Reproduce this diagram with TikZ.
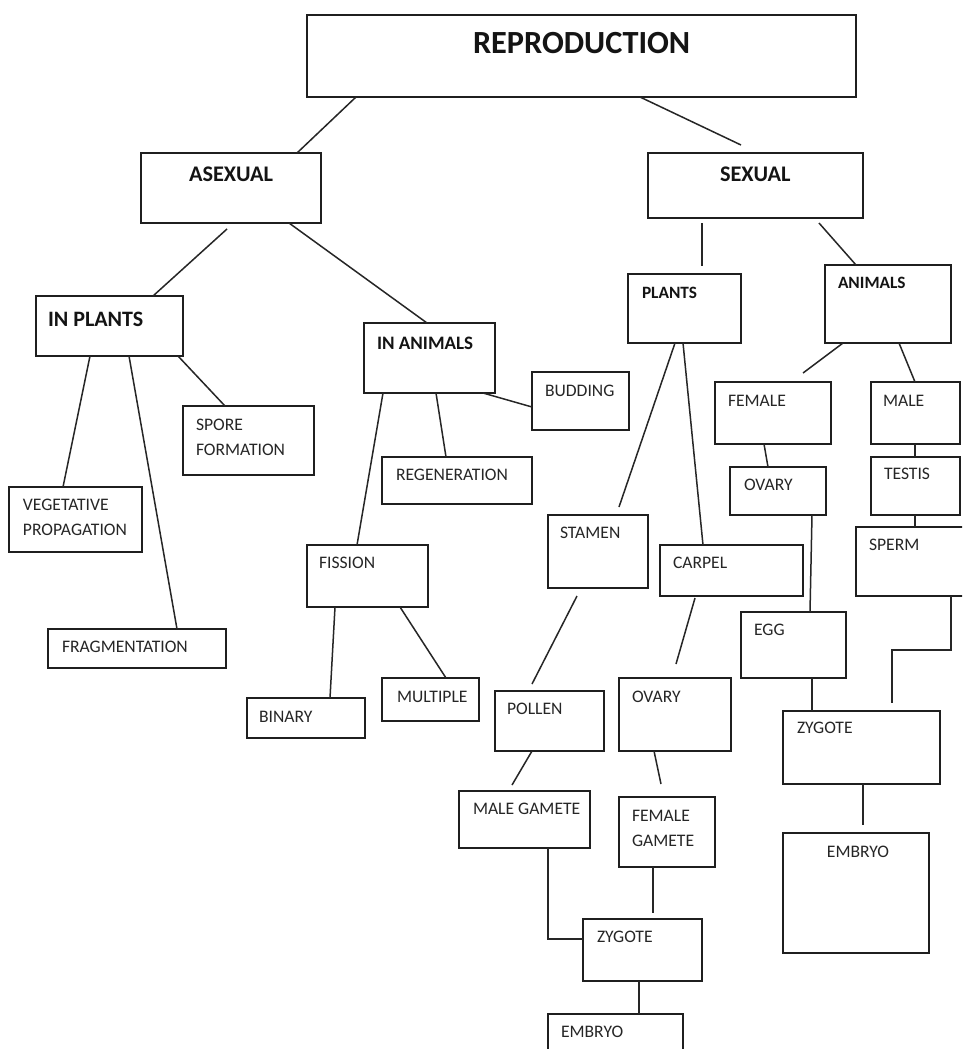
\documentclass[tikz,border=0pt]{standalone}
\usepackage{fontspec}
\setmainfont{Carlito}
\usetikzlibrary{calc}
\tikzset{
  box/.style={draw=black!88, line width=1.7pt, rectangle, inner sep=0pt, outer sep=0pt, anchor=north west},
  lbl/.style={inner sep=0pt, outer sep=0pt, anchor=west, text=black!85, font=\fontsize{17.6}{25}\selectfont, align=left},
  blbl/.style={inner sep=0pt, outer sep=0pt, anchor=west, text=black!92, font=\bfseries\fontsize{#1}{#1}\selectfont},
  con/.style={draw=black!85, line width=1.5pt}
}
\begin{document}
\begin{tikzpicture}[x=1pt,y=-1pt]
\useasboundingbox (0,0) rectangle (962,1049);
\clip (0,0) rectangle (962,1049);
\fill[white] (0,0) rectangle (962,1049);
% boxes
\node[box, minimum width=549, minimum height=82] (rep) at (307,15) {};
\node[box, minimum width=180, minimum height=70] (asex) at (141,153) {};
\node[box, minimum width=215, minimum height=65] (sex) at (648,153) {};
\node[box, minimum width=147, minimum height=60] (inpl) at (36,296) {};
\node[box, minimum width=131, minimum height=70] (inan) at (364,323) {};
\node[box, minimum width=113, minimum height=69] (plants) at (628,274) {};
\node[box, minimum width=126, minimum height=78] (animals) at (825,265) {};
\node[box, minimum width=131, minimum height=69] (spore) at (183,406) {};
\node[box, minimum width=133, minimum height=65] (veg) at (9,487) {};
\node[box, minimum width=178, minimum height=39] (frag) at (48,629) {};
\node[box, minimum width=150, minimum height=47] (regen) at (382,457) {};
\node[box, minimum width=97, minimum height=58] (budding) at (532,372) {};
\node[box, minimum width=121, minimum height=62] (fission) at (307,545) {};
\node[box, minimum width=118, minimum height=40] (binary) at (247,698) {};
\node[box, minimum width=97, minimum height=43] (multiple) at (382,678) {};
\node[box, minimum width=116, minimum height=62] (female) at (715,382) {};
\node[box, minimum width=89, minimum height=62] (male) at (871,382) {};
\node[box, minimum width=96, minimum height=48] (ovaryA) at (730,467) {};
\node[box, minimum width=89, minimum height=58] (testis) at (871,457) {};
\node[box, minimum width=120, minimum height=69] (sperm) at (856,527) {};
\node[box, minimum width=105, minimum height=66] (egg) at (741,612) {};
\node[box, minimum width=157, minimum height=73] (zygA) at (783,711) {};
\node[box, minimum width=146, minimum height=120] (embA) at (783,833) {};
\node[box, minimum width=100, minimum height=73] (stamen) at (548,515) {};
\node[box, minimum width=143, minimum height=51] (carpel) at (660,545) {};
\node[box, minimum width=109, minimum height=60] (pollen) at (495,691) {};
\node[box, minimum width=112, minimum height=73] (ovaryP) at (619,678) {};
\node[box, minimum width=131, minimum height=57] (mgam) at (459,791) {};
\node[box, minimum width=96, minimum height=70] (fgam) at (619,797) {};
\node[box, minimum width=119, minimum height=62] (zygP) at (583,919) {};
\node[box, minimum width=135, minimum height=60] (embP) at (548,1014) {};
% labels
\node[blbl=32.3] (rep-t) at (473,43) {REPRODUCTION};
\node[blbl=22.3] (asex-t) at (189,174) {ASEXUAL};
\node[blbl=22.3] (sex-t) at (720,174) {SEXUAL};
\node[blbl=22] (inpl-t) at (48,319) {IN PLANTS};
\node[blbl=19] (inan-t) at (377,343) {IN ANIMALS};
\node[blbl=17.3] (plants-t) at (642,293) {PLANTS};
\node[blbl=17.3] (animals-t) at (838,283) {ANIMALS};
\node[lbl] (spore-t) at (196,437) {SPORE\\FORMATION};
\node[lbl] (veg-t) at (23,517) {VEGETATIVE\\PROPAGATION};
\node[lbl] (frag-t) at (62,647) {FRAGMENTATION};
\node[lbl] (regen-t) at (396,475) {REGENERATION};
\node[lbl] (budding-t) at (545,391) {BUDDING};
\node[lbl] (fission-t) at (319,563) {FISSION};
\node[lbl] (binary-t) at (259,717) {BINARY};
\node[lbl] (multiple-t) at (397,697) {MULTIPLE};
\node[lbl] (female-t) at (728,401) {FEMALE};
\node[lbl] (male-t) at (883,401) {MALE};
\node[lbl] (ovaryA-t) at (744,485) {OVARY};
\node[lbl] (testis-t) at (884,474) {TESTIS};
\node[lbl] (sperm-t) at (869,545) {SPERM};
\node[lbl] (egg-t) at (754,630) {EGG};
\node[lbl] (zygA-t) at (797,728) {ZYGOTE};
\node[lbl, anchor=center] (embA-t) at (858,852) {EMBRYO};
\node[lbl] (stamen-t) at (560,533) {STAMEN};
\node[lbl] (carpel-t) at (673,563) {CARPEL};
\node[lbl] (pollen-t) at (507,709) {POLLEN};
\node[lbl] (ovaryP-t) at (632,697) {OVARY};
\node[lbl] (mgam-t) at (473,809) {MALE GAMETE};
\node[lbl] (fgam-t) at (632,828) {FEMALE\\GAMETE};
\node[lbl] (zygP-t) at (597,937) {ZYGOTE};
\node[lbl] (embP-t) at (561,1032) {EMBRYO};
% connectors
\draw[con] ($(rep.south west)+(49,0)$) -- ($(asex.north west)+(156,0)$);
\draw[con] ($(rep.south west)+(333,0)$) -- ($(sex.north west)+(93,-8)$);
\draw[con] ($(asex.south west)+(86,6)$) -- ($(inpl.north west)+(117,0)$);
\draw[con] ($(asex.south west)+(148,0)$) -- ($(inan.north west)+(63,0)$);
\draw[con] ($(sex.south west)+(54,5)$) -- ($(plants.north west)+(74,-8)$);
\draw[con] ($(sex.south west)+(171,5)$) -- ($(animals.north west)+(31,0)$);
\draw[con] ($(inpl.south west)+(54,0)$) -- ($(veg.north west)+(54,0)$);
\draw[con] ($(inpl.south west)+(93,0)$) -- ($(frag.north west)+(129,0)$);
\draw[con] ($(inpl.south west)+(142,0)$) -- ($(spore.north west)+(42,0)$);
\draw[con] ($(inan.south west)+(19,0)$) -- ($(fission.north west)+(50,0)$);
\draw[con] ($(inan.south west)+(72,0)$) -- ($(regen.north west)+(64,0)$);
\draw[con] ($(inan.south west)+(119,0)$) -- ($(budding.north west)+(0,35)$);
\draw[con] ($(fission.south west)+(28,0)$) -- ($(binary.north west)+(83,0)$);
\draw[con] ($(fission.south west)+(93,0)$) -- ($(multiple.north west)+(64,0)$);
\draw[con] ($(plants.south west)+(47,0)$) -- ($(stamen.north west)+(71,-8)$);
\draw[con] ($(plants.south west)+(55,0)$) -- ($(carpel.north west)+(43,0)$);
\draw[con] ($(animals.south west)+(18,0)$) -- ($(female.north west)+(88,-9)$);
\draw[con] ($(animals.south west)+(74,0)$) -- ($(male.north west)+(44,0)$);
\draw[con] ($(female.south west)+(49,0)$) -- ($(ovaryA.north west)+(38,0)$);
\draw[con] ($(male.south west)+(44,0)$) -- ($(testis.north west)+(44,0)$);
\draw[con] ($(testis.south west)+(44,0)$) -- ($(sperm.north west)+(59,0)$);
\draw[con] ($(ovaryA.south west)+(82,0)$) -- ($(egg.north west)+(69,0)$);
\draw[con] ($(egg.south west)+(71,0)$) -- ($(zygA.north west)+(29,0)$);
\draw[con] ($(sperm.south west)+(95,0)$) -- ++(0,54) -| ($(zygA.north west)+(109,-8)$);
\draw[con] ($(zygA.south west)+(80,0)$) -- ($(embA.north west)+(80,-8)$);
\draw[con] ($(stamen.south west)+(29,8)$) -- ($(pollen.north west)+(37,-7)$);
\draw[con] ($(carpel.south west)+(35,2)$) -- ($(ovaryP.north west)+(57,-14)$);
\draw[con] ($(pollen.south west)+(37,0)$) -- ($(mgam.north west)+(53,-6)$);
\draw[con] ($(ovaryP.south west)+(35,0)$) -- ($(fgam.north west)+(42,-13)$);
\draw[con] ($(mgam.south west)+(89,0)$) |- ($(zygP.north west)+(0,20)$);
\draw[con] ($(fgam.south west)+(34,0)$) -- ($(zygP.north west)+(70,-6)$);
\draw[con] ($(zygP.south west)+(56,0)$) -- ($(embP.north west)+(91,0)$);
\end{tikzpicture}
\end{document}
